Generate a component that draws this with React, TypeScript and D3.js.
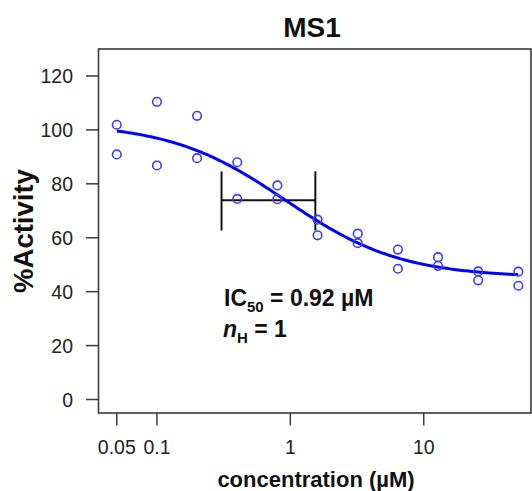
import React from "react";
import * as d3 from "d3";

// Dose–response measurements (duplicate wells per concentration)
const concentrations = [0.05, 0.1, 0.2, 0.4, 0.8, 1.6, 3.2, 6.4, 12.8, 25.6, 51.2];
const replicateA = [101.9, 110.4, 105.2, 88.0, 79.4, 66.7, 61.5, 55.6, 52.8, 47.5, 47.4];
const replicateB = [90.9, 86.8, 89.5, 74.4, 74.3, 60.9, 58.0, 48.5, 49.6, 44.2, 42.2];

// Four-parameter logistic fit
const fitTop = 102.55;
const fitBottom = 45.29;
const ic50 = 0.92;
const hill = 1;
// Confidence interval of the IC50 and the vertical whisker span
const ic50Low = 0.305;
const ic50High = 1.54;
const whiskerLow = 62.7;
const whiskerHigh = 84.6;

const xTicks = [0.05, 0.1, 1, 10];
const xTickLabels = ["0.05", "0.1", "1", "10"];
const yTicks = [0, 20, 40, 60, 80, 100, 120];

const W = 532;
const H = 491;
const left = 98.5;
const right = 531;
const top = 49;
const bottom = 413;
const FONT = "'Liberation Sans', Arial, Helvetica, sans-serif";
const AXIS = "#3a3a3a";

const logistic = (c: number) =>
  fitBottom + (fitTop - fitBottom) / (1 + Math.pow(c / ic50, hill));

export default function App() {
  const x = d3
    .scaleLog()
    .domain([Math.pow(10, -1.438), Math.pow(10, 1.804)])
    .range([left, right]);
  const y = d3.scaleLinear().domain([-5, 130]).range([bottom, top]);

  const lo = Math.log10(concentrations[0]);
  const hi = Math.log10(concentrations[concentrations.length - 1]);
  const curveX = d3.range(0, 201).map((i) => Math.pow(10, lo + (i / 200) * (hi - lo)));
  const line = d3
    .line<number>()
    .x((c) => x(c))
    .y((c) => y(logistic(c)));

  const midY = y(fitBottom + (fitTop - fitBottom) / 2);

  const points: { c: number; v: number }[] = [];
  concentrations.forEach((c, i) => {
    points.push({ c, v: replicateA[i] });
    points.push({ c, v: replicateB[i] });
  });

  return (
    <svg
      width={W}
      height={H}
      style={{ position: "absolute", left: 0, top: 0, background: "#fff" }}
      fontFamily={FONT}
    >
      <rect x={0} y={0} width={W} height={H} fill="#fff" />
      {/* Title */}
      <text x={312} y={37} textAnchor="middle" fontSize={28} fontWeight="bold" fill="#111">
        MS1
      </text>

      {/* Plot frame */}
      <rect
        x={left}
        y={top}
        width={right - left}
        height={bottom - top}
        fill="none"
        stroke={AXIS}
        strokeWidth={1.6}
      />

      {/* Y axis */}
      {yTicks.map((t) => (
        <g key={t}>
          <line x1={86} x2={left} y1={y(t)} y2={y(t)} stroke={AXIS} strokeWidth={1.5} />
          <text x={73} y={y(t)} dy="0.36em" textAnchor="end" fontSize={19.5} fill="#222">
            {t}
          </text>
        </g>
      ))}
      <text
        transform={`translate(33,${(top + bottom) / 2}) rotate(-90)`}
        textAnchor="middle"
        fontSize={27.5}
        fontWeight="bold"
        fill="#111"
      >
        %Activity
      </text>

      {/* X axis */}
      {xTicks.map((t, i) => (
        <g key={t}>
          <line x1={x(t)} x2={x(t)} y1={bottom} y2={425.5} stroke={AXIS} strokeWidth={1.5} />
          <text x={x(t)} y={454} textAnchor="middle" fontSize={19.5} fill="#222">
            {xTickLabels[i]}
          </text>
        </g>
      ))}
      <text x={316} y={487} textAnchor="middle" fontSize={22} fontWeight="bold" fill="#111">
        concentration (µM)
      </text>

      {/* IC50 confidence bar */}
      <g stroke="#111" strokeWidth={2}>
        <line x1={x(ic50Low)} x2={x(ic50High)} y1={midY} y2={midY} />
        <line x1={x(ic50Low)} x2={x(ic50Low)} y1={y(whiskerLow)} y2={y(whiskerHigh)} />
        <line x1={x(ic50High)} x2={x(ic50High)} y1={y(whiskerLow)} y2={y(whiskerHigh)} />
      </g>

      {/* Fitted curve */}
      <path d={line(curveX) ?? ""} fill="none" stroke="#0000ff" strokeWidth={3} />

      {/* Observations */}
      {points.map((p, i) => (
        <circle
          key={i}
          cx={x(p.c)}
          cy={y(p.v)}
          r={4.3}
          fill="none"
          stroke="#3b3bff"
          strokeWidth={1.6}
        />
      ))}

      {/* Fit annotation */}
      <text x={224} y={306} fontSize={23} fontWeight="bold" fill="#111">
        IC
        <tspan fontSize={15} dy={6}>50</tspan>
        <tspan dy={-6}> = 0.92 µM</tspan>
      </text>
      <text x={223} y={337} fontSize={23} fontWeight="bold" fill="#111">
        <tspan fontStyle="italic">n</tspan>
        <tspan fontSize={15} dy={6}>H</tspan>
        <tspan dy={-6}> = 1</tspan>
      </text>
    </svg>
  );
}
